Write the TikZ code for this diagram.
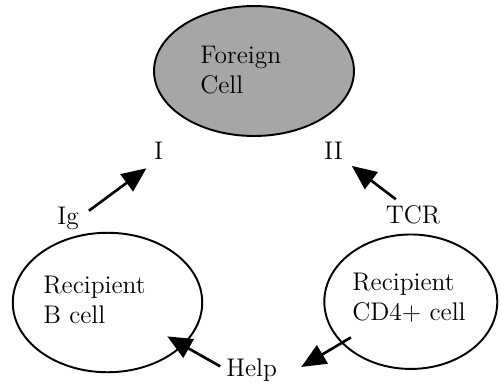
\documentclass[tikz,border=0pt]{standalone}
\usepackage{fontspec}
\usetikzlibrary{arrows.meta,shapes.geometric}
\tikzset{
    cell/.style={ellipse, draw, line width=1.1pt, inner sep=0mm},
    word/.style={inner sep=0mm, font=\fontsize{14.5}{17}\selectfont},
    arr/.style={line width=1.5pt, -{Triangle[length=14pt, width=12pt]}}
}

\begin{document}
\begin{tikzpicture}[x=0.02cm, y=-0.02cm]
    \useasboundingbox (0,0) rectangle (501,383);

    % cells
    \node (fc) [cell, fill=black!35, minimum width=4.0cm, minimum height=2.6cm] at (254,71) {};
    \node (bc) [cell, minimum width=3.79cm, minimum height=2.79cm] at (107.5,302.5) {};
    \node (tc) [cell, minimum width=3.46cm, minimum height=2.69cm] at (410.8,301.7) {};

    \node (fctext) [word, align=left, anchor=base west] at (200,93) {Foreign\\Cell};
    \node (bctext) [word, align=left, anchor=base west] at (43,323) {Recipient\\B cell};
    \node (tctext) [word, align=left, anchor=base west] at (352,320) {Recipient\\CD4+ cell};

    % labels
    \node (one) [word, anchor=base] at (158.5,159) {I};
    \node (two) [word, anchor=base] at (333.5,159) {II};
    \node (ig) [word, anchor=base west] at (57,224) {Ig};
    \node (tcr) [word, anchor=base] at (413,223) {TCR};
    \node (help) [word, anchor=base west] at (226,376) {Help};

    % arrows
    \draw[arr, shorten <=0.242cm, shorten >=0.301cm] (ig.east) -- (one.south);
    \draw[arr, shorten <=0.182cm, shorten >=0.216cm] (tcr.136) -- (two.south east);
    \draw[arr, shorten <=0.134cm, shorten >=1.374cm] (help.west) -- (bc.center);
    \draw[arr, shorten <=1.394cm, shorten >=0.56cm] (tc.center) -- (help.south east);
\end{tikzpicture}
\end{document}
